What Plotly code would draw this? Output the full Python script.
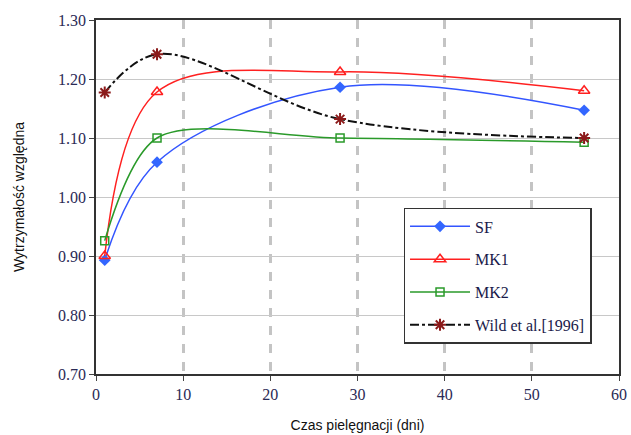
import plotly.graph_objects as go

days = [1, 7, 28, 56]
sf = [0.893, 1.059, 1.186, 1.147]
mk1 = [0.900, 1.178, 1.212, 1.180]
mk2 = [0.926, 1.100, 1.100, 1.093]
wild = [1.177, 1.242, 1.132, 1.100]
y_ticks = [0.70, 0.80, 0.90, 1.00, 1.10, 1.20, 1.30]
x_ticks = [0, 10, 20, 30, 40, 50, 60]

fig = go.Figure()
fig.add_trace(go.Scatter(x=days, y=sf, name="SF", mode="lines+markers",
                         line=dict(color="#3355ff", width=1.5, shape="spline", smoothing=1),
                         marker=dict(symbol="diamond", size=9, color="#3366ff"),
                         legendgroup="a"))
fig.add_trace(go.Scatter(x=days, y=mk1, name="MK1", mode="lines+markers",
                         line=dict(color="#ff2020", width=1.5, shape="spline", smoothing=1),
                         marker=dict(symbol="triangle-up-open", size=10, color="#ff2020", line=dict(width=1.5)),
                         legendgroup="b"))
fig.add_trace(go.Scatter(x=days, y=mk2, name="MK2", mode="lines+markers",
                         line=dict(color="#2a9a2a", width=1.5, shape="spline", smoothing=0.85),
                         marker=dict(symbol="square-open", size=8, color="#2a9a2a", line=dict(width=1.5)),
                         legendgroup="c"))
fig.add_trace(go.Scatter(x=days, y=wild, name="Wild et al.[1996]", mode="lines+markers",
                         line=dict(color="#111111", width=2, shape="spline", smoothing=1, dash="dashdot"),
                         marker=dict(symbol="asterisk-open", size=10, color="#8b1a1a", line=dict(width=2, color="#8b1a1a")),
                         legendgroup="d"))

fig.update_layout(
    width=631, height=435,
    margin=dict(l=96, r=12, t=20, b=61, autoexpand=False),
    paper_bgcolor="white", plot_bgcolor="white",
    showlegend=True,
    legend=dict(x=0.588, y=0.469, xanchor="left", yanchor="top",
                bgcolor="white", bordercolor="#333333", borderwidth=1.5,
                font=dict(family="Liberation Serif", size=16, color="#1a1a4a"),
                tracegroupgap=9, itemwidth=60),
    xaxis=dict(range=[0, 60], tickvals=x_ticks, ticks="outside", ticklen=5,
               tickfont=dict(family="Liberation Serif", size=16, color="#2a2a55"),
               ticklabeloverflow="allow", automargin=False,
               showline=True, linecolor="#333333", linewidth=1.5, mirror=True,
               showgrid=True, gridcolor="#c4c4c4", gridwidth=3, griddash="dash",
               zeroline=False,
               title=dict(text="Czas pielęgnacji (dni)", font=dict(family="Liberation Sans", size=14, color="#111111"), standoff=18)),
    yaxis=dict(range=[0.70, 1.30], tickvals=y_ticks, tickformat=".2f", ticks="outside", ticklen=5,
               tickfont=dict(family="Liberation Serif", size=16, color="#2a2a55"),
               ticklabeloverflow="allow", automargin=False,
               showline=True, linecolor="#333333", linewidth=1.5, mirror=True,
               showgrid=True, gridcolor="#c8c8c8", gridwidth=1,
               zeroline=False,
               title=dict(text="Wytrzymałość względna", font=dict(family="Liberation Sans", size=14, color="#111111"), standoff=30)),
)

fig.write_html("out.html")
